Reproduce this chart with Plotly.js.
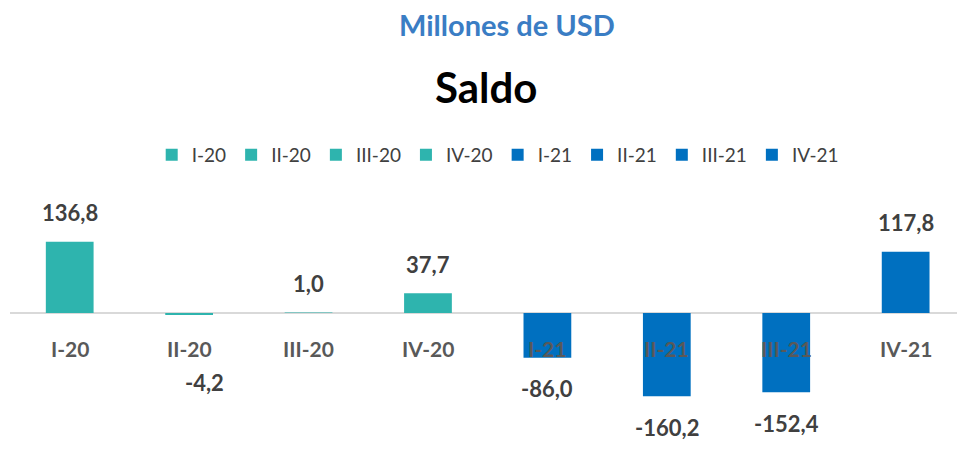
<!DOCTYPE html>
<html><head><meta charset="utf-8">
<script src="https://cdn.plot.ly/plotly-3.0.1.min.js"></script>
<style>html,body{margin:0;padding:0;background:#fff}#chart{width:957px;height:457px}</style>
</head><body><div id="chart"></div>
<script>
const categories = ["I-20","II-20","III-20","IV-20","I-21","II-21","III-21","IV-21"];
const saldo = [136.8, -4.2, 1.0, 37.7, -86.0, -160.2, -152.4, 117.8];
const years = ["2020","2020","2020","2020","2021","2021","2021","2021"];

const colorByYear = {"2020":"#2EB4AE","2021":"#0070C0"};
const FONT = "Lato, 'Open Sans', sans-serif";

const traces = categories.map((c,i)=>({
  type:'bar', name:c, x:[c], y:[saldo[i]], width:0.4,
  marker:{color:colorByYear[years[i]]}, hoverinfo:'skip'
}));

const fmt = v => v.toFixed(1).replace('.', ',');
const annotations = [];
categories.forEach((c,i)=>{
  annotations.push({x:c, y:0, xref:'x', yref:'y', text:'<b>'+c+'</b>', showarrow:false,
    yshift:-36, font:{family:FONT,size:21,color:'#595959'}});
  const v = saldo[i];
  let ys = v >= 0 ? 29 : -31, xs = 0;
  if (v < 0 && Math.abs(v) < 20) { ys = -67; xs = 15; }
  annotations.push({x:c, y:v, xref:'x', yref:'y', text:'<b>'+fmt(v)+'</b>', showarrow:false,
    yshift:ys, xshift:xs, font:{family:FONT,size:22,color:'#404040'}});
});
annotations.push({xref:'paper', yref:'paper', x:0.525, y:1+(185-24)/272, yanchor:'middle',
  text:'<b>Millones de USD</b>', showarrow:false, font:{family:FONT,size:29,color:'#3A7DC4'}});

const layout = {
  width:957, height:457, paper_bgcolor:'#fff', plot_bgcolor:'#fff',
  margin:{l:10, r:0, t:185, b:0},
  title:{text:'<b>Saldo</b>', x:0.508, xanchor:'center', yref:'container', y:1-88/457, yanchor:'middle',
    font:{family:FONT, size:42, color:'#000'}},
  barmode:'overlay',
  showlegend:true,
  legend:{orientation:'h', x:0.515, xanchor:'center', y:1+(185-155)/272, yanchor:'middle',
    font:{family:FONT,size:19,color:'#404040'}, itemwidth:30, tracegroupgap:0},
  xaxis:{type:'category', range:[-0.5,7.43], showticklabels:false, showgrid:false, zeroline:false, showline:false, ticks:''},
  yaxis:{range:[-277,246], showticklabels:false, showgrid:false, zeroline:true, zerolinecolor:'#D9D9D9', zerolinewidth:2, showline:false, ticks:''},
  annotations: annotations
};
Plotly.newPlot('chart', traces, layout, {displayModeBar:false, staticPlot:true});
</script></body></html>
